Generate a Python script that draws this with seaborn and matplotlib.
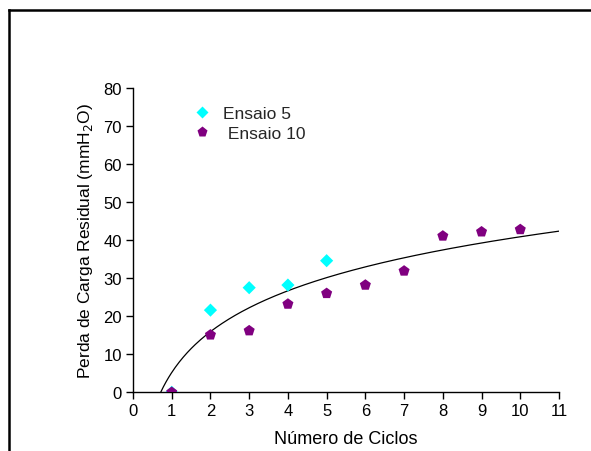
import numpy as np
import pandas as pd
import matplotlib
matplotlib.use("Agg")
import matplotlib.pyplot as plt
from matplotlib.lines import Line2D
import seaborn as sns

# Measured residual head loss per cycle
ciclos_e5 = [1, 2, 3, 4, 5]
perda_e5 = [0.0, 21.6, 27.5, 28.2, 34.6]
ciclos_e10 = [1, 2, 3, 4, 5, 6, 7, 8, 9, 10]
perda_e10 = [0.0, 15.1, 16.2, 23.2, 26.0, 28.2, 31.9, 41.1, 42.2, 42.8]

# Logarithmic trend: y = a*ln(x) + b
trend_a = 15.5
trend_b = 5.2

x_ticks = list(range(0, 12))
y_ticks = list(range(0, 90, 10))

sns.set_theme(style="white")
plt.rcParams["font.family"] = ["Liberation Sans", "DejaVu Sans"]

fig = plt.figure(figsize=(5.91, 4.52), dpi=100)
ax = fig.add_axes([133 / 591, (452 - 393.3) / 452, (559 - 133) / 591, (393.3 - 89) / 452])

x0 = np.exp(-trend_b / trend_a)
xs = np.linspace(x0, 11, 300)
trend = pd.DataFrame({"x": xs, "y": trend_a * np.log(xs) + trend_b})
sns.lineplot(data=trend, x="x", y="y", ax=ax, color="black", linewidth=0.9)

sns.scatterplot(x=ciclos_e5, y=perda_e5, ax=ax, marker="D", color="#00FFFF",
                s=45, edgecolor="none", zorder=3)
sns.scatterplot(x=ciclos_e10, y=perda_e10, ax=ax, marker="p", color="#800080",
                s=70, edgecolor="none", zorder=4)

ax.set_xlim(0, 11)
ax.set_ylim(0, 80)
ax.set_xticks(x_ticks)
ax.set_yticks(y_ticks)
ax.tick_params(axis="both", direction="out", length=5, width=1, color="black",
               labelsize=12, labelcolor="black", pad=3, bottom=True, left=True)
for side in ["top", "right"]:
    ax.spines[side].set_visible(False)
for side in ["left", "bottom"]:
    ax.spines[side].set_color("black")
    ax.spines[side].set_linewidth(1)
ax.grid(False)

ax.set_xlabel("Número de Ciclos", fontsize=13, color="black", labelpad=8)
ax.set_ylabel("Perda de Carga Residual (mmH$_2$O)", fontsize=12.5, color="black", labelpad=6)

handles = [
    Line2D([], [], linestyle="none", marker="D", color="#00FFFF", markersize=6.5,
           markeredgecolor="none", label="Ensaio 5"),
    Line2D([], [], linestyle="none", marker="p", color="#800080", markersize=8,
           markeredgecolor="none", label=" Ensaio 10"),
]
ax.legend(handles=handles, loc="upper left", bbox_to_anchor=(0.125, 0.965), frameon=False,
          fontsize=12.5, handlelength=1.0, handletextpad=0.7, labelspacing=0.3,
          borderaxespad=0)

# Frame lines on the left and top of the figure
fig.add_artist(Line2D([9.5 / 591, 9.5 / 591], [0, (452 - 11) / 452], transform=fig.transFigure,
                      color="black", linewidth=1.8, solid_capstyle="projecting"))
fig.add_artist(Line2D([9.5 / 591, 1], [(452 - 11) / 452, (452 - 11) / 452],
                      transform=fig.transFigure, color="black", linewidth=1.8,
                      solid_capstyle="projecting"))

fig.savefig("out.png", dpi=100, facecolor="white")
